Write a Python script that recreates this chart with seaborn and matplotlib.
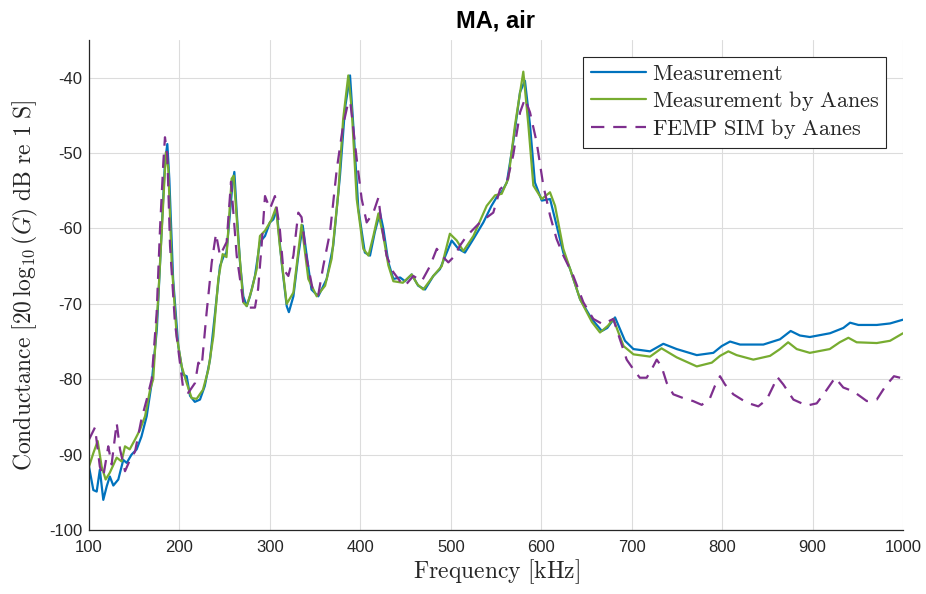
import matplotlib
matplotlib.use("Agg")
import matplotlib.pyplot as plt
import seaborn as sns
import pandas as pd

# ---------------- data ----------------
meas_f = [100, 104.8, 108.5, 112, 115.8, 119.6, 123, 126.9, 132.4, 137.9,
          141.7, 147, 152.7, 158, 163.8, 169.3, 175, 180.4, 184, 186.6,
          188.8, 193, 198.7, 204, 208, 211.7, 217, 222.7, 228, 233.8,
          239, 244.8, 248.5, 252, 256, 258.5, 260.7, 263.3, 267, 270.6,
          274.4, 278, 283.5, 289, 294.6, 300, 303.8, 307.5, 313, 318.6,
          321, 326, 331.4, 336.3, 340.7, 346, 353.5, 362.8, 370, 377.5,
          383, 388.6, 392.2, 397.8, 405, 410.7, 416, 421.7, 425.4, 431,
          436.5, 444, 449.4, 456.8, 464, 471.5, 480.7, 488, 495.5, 501,
          508.4, 515.7, 525, 536, 545, 552, 556, 562, 569, 576.6,
          582, 587.6, 593, 600.6, 609.8, 617, 624.4, 632, 643, 655.8,
          667, 673, 681.6, 692.6, 702, 720.3, 735, 749.8, 772, 790.3,
          799.6, 808.8, 819.8, 845.6, 864, 875.8, 886, 897, 919.3, 934,
          941.5, 950.7, 971, 985.7, 1000]
meas_g = [-91.6, -94.7, -94.9, -92.0, -96.0, -94.2, -92.9, -94.1, -93.3, -90.7,
          -91.1, -90.0, -89.3, -87.6, -84.9, -80.5, -73.4, -60.1, -51.2, -48.8,
          -53.4, -66.7, -75.6, -79.4, -79.6, -82.2, -83.0, -82.7, -80.9, -77.4,
          -71.6, -65.0, -63.8, -63.2, -57.8, -54.3, -52.5, -57.8, -64.5, -69.0,
          -70.3, -69.0, -66.3, -61.8, -61.0, -59.2, -58.8, -57.6, -64.5, -70.3,
          -71.1, -69.0, -63.6, -59.6, -63.6, -68.1, -69.0, -66.7, -62.3, -53.0,
          -44.1, -39.7, -46.3, -57.4, -63.2, -63.6, -60.5, -57.9, -60.0, -64.5,
          -66.7, -66.5, -67.0, -66.1, -67.6, -68.1, -66.3, -65.4, -63.2, -61.6,
          -62.7, -63.2, -61.4, -59.2, -57.0, -55.6, -55.2, -53.9, -48.6, -41.9,
          -40.4, -46.3, -53.9, -56.3, -56.1, -59.6, -63.2, -65.4, -69.4, -72.0,
          -73.6, -73.2, -71.8, -74.9, -76.0, -76.3, -75.3, -76.0, -76.8, -76.5,
          -75.6, -75.0, -75.4, -75.4, -74.7, -73.6, -74.2, -74.4, -73.9, -73.2,
          -72.5, -72.8, -72.8, -72.6, -72.1]

aanes_f = [100, 104.8, 109.6, 114, 118.4, 123, 130.6, 136, 139.8, 145,
           150.9, 156.4, 162, 167.5, 171, 176.6, 181.5, 185, 187.7, 191.4,
           197, 202.5, 208, 213.5, 219, 226, 232, 237.5, 243, 247.8,
           252, 257.7, 260, 265, 270.6, 274.4, 280, 285.4, 289, 294.6,
           302, 306.8, 311, 318.6, 326, 335, 342.5, 351.8, 361, 368.3,
           375.7, 381, 386.7, 390.4, 396, 403.3, 409, 414.4, 420, 425.4,
           431, 436.5, 447, 456.8, 463, 469.6, 480.7, 490, 499, 506.6,
           513.9, 525, 539.7, 549, 556.3, 563.6, 571, 580.2, 585.8, 591.3,
           600.6, 609.7, 615.3, 624.4, 632, 643, 656, 665, 673.8, 679.7,
           691, 702, 720.3, 733, 749.8, 772, 788.6, 797.7, 806.9, 816,
           834.5, 853, 864, 873, 882.5, 897, 919, 930, 939.6, 948.8,
           971, 985.7, 1000]
aanes_g = [-91.6, -89.8, -88.2, -91.6, -93.3, -92.4, -90.4, -90.9, -88.9, -89.3,
           -88.0, -86.7, -84.9, -81.4, -80.0, -69.0, -57.9, -49.9, -52.1, -64.5,
           -74.3, -78.3, -80.5, -82.5, -82.6, -81.4, -78.7, -74.3, -66.7, -63.4,
           -63.8, -53.4, -53.0, -61.4, -69.8, -70.3, -68.1, -65.4, -61.0, -60.3,
           -58.8, -57.2, -62.3, -70.0, -68.5, -59.5, -66.7, -69.0, -67.6, -64.0,
           -55.2, -45.5, -39.7, -44.1, -56.1, -62.7, -63.6, -61.0, -58.0, -61.0,
           -64.9, -67.0, -67.2, -66.1, -67.4, -68.1, -66.3, -65.0, -60.7, -61.6,
           -63.0, -61.0, -57.0, -55.6, -55.4, -53.4, -46.3, -39.2, -46.3, -54.3,
           -56.1, -55.2, -57.0, -62.7, -65.4, -69.4, -72.4, -73.8, -72.9, -72.0,
           -75.6, -76.7, -77.0, -75.9, -77.1, -78.3, -77.8, -76.9, -76.3, -76.8,
           -77.4, -76.9, -76.0, -75.1, -76.0, -76.5, -76.0, -75.1, -74.5, -75.1,
           -75.2, -74.9, -73.9]

femp_f = [100, 106.6, 112, 115.8, 121.3, 125, 130.6, 134.3, 139.8, 145.3,
          150.9, 158, 163.8, 169.3, 174.8, 178.5, 182.2, 184, 186.6, 189.6,
          195, 200.6, 204.3, 209.8, 217.2, 220.9, 224.6, 230, 235.7, 240.4,
          244.8, 252.2, 257, 263.3, 267, 270.6, 276, 283.5, 287, 291,
          294.6, 300, 305.6, 311, 314.8, 320.4, 326, 331.4, 335, 340.7,
          348, 353.5, 359, 366.5, 374, 381, 386.7, 389, 396, 401.5,
          407, 414.4, 420, 423.6, 429, 436.5, 444, 449.4, 458.6, 467.9,
          477, 484.5, 490, 497.3, 504.7, 510, 517.6, 525, 532.3, 547,
          554.5, 562, 569, 576.6, 582, 587.6, 595, 602.3, 609.8, 617,
          624.5, 635.5, 646.6, 657.6, 668, 679.7, 687, 694.5, 702, 709,
          716.6, 722, 727.7, 733, 738.8, 746, 757, 768, 777.5, 786.6,
          792, 797.7, 803.2, 812.4, 827.2, 840, 849.3, 856.6, 861, 867.7,
          878.8, 893.6, 904.6, 915.7, 924.9, 934, 945, 960, 971, 980.7,
          990, 1000]
femp_g = [-88.0, -86.4, -91.6, -92.9, -88.9, -91.3, -85.8, -89.3, -92.2, -90.7,
          -89.6, -85.3, -82.7, -80.0, -71.2, -60.1, -51.2, -47.9, -50.3, -62.3,
          -72.5, -77.8, -81.4, -81.8, -80.5, -77.8, -78.3, -71.2, -64.5, -60.7,
          -63.6, -61.8, -53.8, -63.6, -66.7, -69.8, -70.5, -70.5, -68.0, -62.0,
          -55.7, -57.4, -55.7, -60.1, -65.4, -66.3, -63.6, -57.9, -58.5, -64.0,
          -68.5, -68.8, -65.0, -60.5, -52.1, -46.3, -43.2, -43.3, -50.8, -56.1,
          -59.2, -57.9, -55.9, -59.6, -63.6, -65.8, -67.0, -67.6, -66.3, -67.0,
          -65.0, -62.7, -63.6, -64.5, -63.6, -62.3, -61.0, -60.1, -59.2, -57.9,
          -54.8, -53.9, -50.3, -44.6, -42.8, -44.6, -48.6, -54.3, -58.3, -61.4,
          -63.6, -66.3, -69.8, -72.0, -72.7, -72.0, -74.7, -77.4, -78.7, -79.8,
          -79.8, -78.7, -77.4, -78.3, -80.5, -82.0, -82.5, -82.9, -83.4, -82.5,
          -80.9, -79.6, -80.7, -82.0, -83.1, -83.6, -82.7, -80.9, -79.7, -80.7,
          -82.7, -83.5, -83.2, -81.4, -79.8, -81.1, -81.6, -82.9, -82.7, -80.9,
          -79.6, -79.9]

series_names = ["Measurement", "Measurement by Aanes", "FEMP SIM by Aanes"]
x_ticks = [100, 200, 300, 400, 500, 600, 700, 800, 900, 1000]
y_ticks = [-100, -90, -80, -70, -60, -50, -40]

# ---------------- style ----------------
sns.set_theme(style="white")
plt.rcParams["font.family"] = ["Liberation Sans Narrow", "Liberation Sans", "DejaVu Sans"]
plt.rcParams["mathtext.fontset"] = "cm"

colors = ["#0072BD", "#77AC30", "#7E2F8E"]

fig = plt.figure(figsize=(9.26, 5.94), dpi=100)
ax = fig.add_axes([89 / 926, 64 / 594, 814 / 926, 490 / 594])

frames = [
    pd.DataFrame({"f": meas_f, "g": meas_g}),
    pd.DataFrame({"f": aanes_f, "g": aanes_g}),
    pd.DataFrame({"f": femp_f, "g": femp_g}),
]
for df, name, c in zip(frames, series_names, colors):
    kw = dict(dashes=(6, 4)) if name.startswith("FEMP") else {}
    sns.lineplot(data=df, x="f", y="g", ax=ax, color=c, linewidth=1.6,
                 sort=False, estimator=None, label=name, **kw)

ax.set_xlim(100, 1000)
ax.set_ylim(-100, -35)
ax.set_xticks(x_ticks)
ax.set_yticks(y_ticks)
ax.set_xticklabels([str(v) for v in x_ticks])
ax.set_yticklabels([str(v) for v in y_ticks])
ax.grid(True, color="#dcdcdc", linewidth=0.8)
ax.set_axisbelow(True)
for s in ["top", "right"]:
    ax.spines[s].set_visible(False)
for s in ["left", "bottom"]:
    ax.spines[s].set_color("#262626")
    ax.spines[s].set_linewidth(0.9)
ax.tick_params(axis="both", direction="in", length=5, width=0.8,
               colors="#262626", labelsize=12, pad=5)
ax.tick_params(axis="x", pad=7)

ax.set_xlabel(r"$\mathrm{Frequency\ [kHz]}$", fontsize=17, color="#262626", labelpad=2)
ax.set_ylabel(r"$\mathrm{Conductance}\ [20\,\log_{10}(G)\ \mathrm{dB\ re\ 1\ S}]$",
              fontsize=17, color="#262626", labelpad=6)
ax.set_title("MA, air", fontsize=17, fontweight="bold", color="black",
             family=["Liberation Sans", "DejaVu Sans"], pad=9)

handles, labels = ax.get_legend_handles_labels()
leg = ax.legend(handles, [r"$\mathrm{" + l.replace(" ", r"\ ") + "}$" for l in labels],
                loc="upper right", bbox_to_anchor=(0.9795, 0.966), fontsize=16,
                frameon=True, fancybox=False, edgecolor="#262626", framealpha=1,
                handlelength=2.5, handletextpad=0.25, labelspacing=0.17,
                borderpad=0.33, borderaxespad=0.0)
leg.get_frame().set_linewidth(0.8)

fig.savefig("out.png", dpi=100)
